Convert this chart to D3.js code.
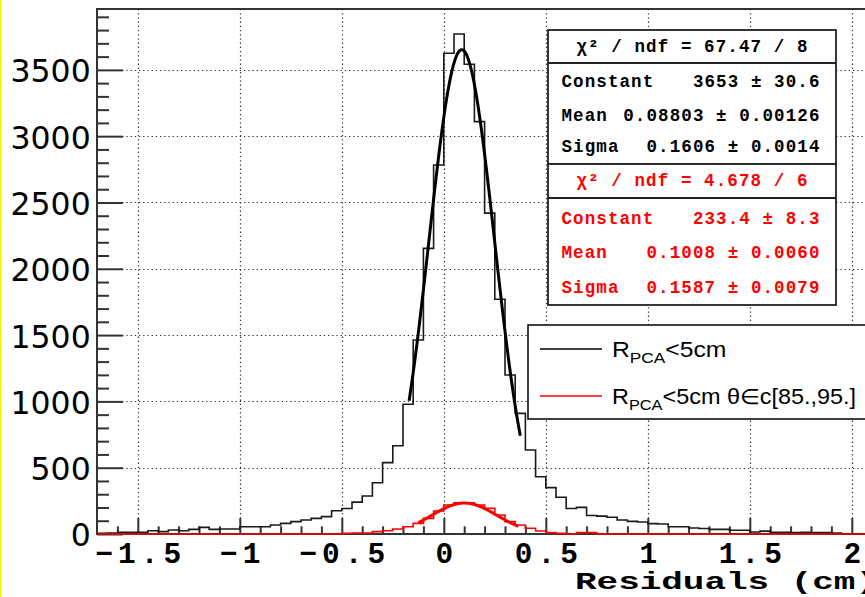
<!DOCTYPE html>
<html>
<head>
<meta charset="utf-8">
<script src="https://cdn.jsdelivr.net/npm/d3@7"></script>
<style>
  body { margin: 0; background: #fff; }
  svg { display: block; }
</style>
</head>
<body>
<svg id="chart" width="865" height="597"></svg>
<script>
// histogram binning: 76 bins of 0.05 starting at -1.7
const binStart = -1.7;
const binWidth = 0.05;

// R_PCA < 5cm (black)
const blackCounts = [
  5, 8, 13, 13, 13, 25, 18, 30, 25, 35,
  50, 35, 38, 38, 55, 55, 55, 68, 80, 93,
  106, 118, 131, 175, 192, 240, 287, 387, 538, 665,
  978, 1463, 2154, 2783, 3625, 3771, 3542, 3110, 2420, 1770,
  1199, 910, 633, 432, 350, 277, 192, 201, 140, 135,
  126, 106, 95, 90, 78, 75, 55, 55, 45, 42,
  35, 35, 28, 28, 15, 22, 12, 12, 10, 12,
  10, 10, 8, 0, 0, 0
];

// R_PCA < 5cm, theta in [85, 95] (red)
const redCounts = [
  0, 0, 0, 0, 0, 0, 0, 0, 0, 0,
  0, 0, 0, 0, 0, 0, 0, 0, 0, 0,
  0, 0, 0, 0, 5, 8, 8, 18, 25, 38,
  55, 80, 118, 173, 219, 236, 236, 219, 194, 143,
  93, 68, 43, 23, 10, 5, 0, 10, 10, 0,
  0, 0, 0, 0, 0, 0, 0, 0, 0, 0,
  0, 0, 0, 0, 0, 0, 0, 0, 0, 0,
  0, 0, 0, 0, 0, 0
];

// gaussian fit results: [constant, mean, sigma] and fit range
const blackFitPars = [3653, 0.08803, 0.1606];
const blackFitRange = [-0.17, 0.375];
const redFitPars = [233.4, 0.1008, 0.1587];
const redFitRange = [-0.125, 0.366];

const xTicks = [-1.5, -1, -0.5, 0, 0.5, 1, 1.5, 2];
const xTickLabels = ["\u22121.5", "\u22121", "\u22120.5", "0", "0.5", "1", "1.5", "2"];
const xMinorTicks = [-1.6, -1.4, -1.3, -1.2, -1.1, -0.9, -0.8, -0.7, -0.6, -0.4, -0.3, -0.2, -0.1,
  0.1, 0.2, 0.3, 0.4, 0.6, 0.7, 0.8, 0.9, 1.1, 1.2, 1.3, 1.4, 1.6, 1.7, 1.8, 1.9];
const yTicks = [0, 500, 1000, 1500, 2000, 2500, 3000, 3500];
const yMinorTicks = d3.range(100, 4000, 100).filter(v => v % 500 !== 0);

const blackStatsHeader = "\u03c7\u00b2 / ndf = 67.47 / 8";
const blackStatsNames = ["Constant", "Mean", "Sigma"];
const blackStatsValues = ["3653 \u00b1 30.6", "0.08803 \u00b1 0.00126", "0.1606 \u00b1 0.0014"];
const redStatsHeader = "\u03c7\u00b2 / ndf = 4.678 / 6";
const redStatsNames = ["Constant", "Mean", "Sigma"];
const redStatsValues = ["233.4 \u00b1 8.3", "0.1008 \u00b1 0.0060", "0.1587 \u00b1 0.0079"];

const legendLabels = ["<5cm", "<5cm \u03b8\u2208c[85.,95.]"];
const legendColors = ["#000", "#ff0000"];

const svg = d3.select("#chart");
const W = 865, H = 597;

const x = d3.scaleLinear().domain([-1.7, 2.1]).range([97, 872.2]);
const y = d3.scaleLinear().domain([0, 3959]).range([534, 9]);
const crisp = v => Math.round(v) + 0.5;

svg.append("rect").attr("width", W).attr("height", H).attr("fill", "#fff");

// grid
const grid = svg.append("g").attr("stroke", "#333").attr("stroke-width", 1.2)
  .attr("stroke-dasharray", "1.3,2.9");
grid.selectAll(".gx").data(xTicks).join("line")
  .attr("x1", d => crisp(x(d))).attr("x2", d => crisp(x(d)))
  .attr("y1", y.range()[1]).attr("y2", y.range()[0]);
grid.selectAll(".gy").data(yTicks.filter(d => d > 0)).join("line")
  .attr("x1", x.range()[0]).attr("x2", x.range()[1])
  .attr("y1", d => crisp(y(d))).attr("y2", d => crisp(y(d)));

// frame
svg.append("rect")
  .attr("x", x.range()[0]).attr("y", y.range()[1])
  .attr("width", x.range()[1] - x.range()[0])
  .attr("height", y.range()[0] - y.range()[1])
  .attr("fill", "none").attr("stroke", "#333").attr("stroke-width", 2);

// axes
function styleAxis(g) {
  g.select(".domain").remove();
  g.selectAll(".tick line").attr("stroke", "#333").attr("stroke-width", 2);
}
svg.append("g").attr("transform", `translate(${x.range()[0]},0)`)
  .call(d3.axisLeft(y).tickValues(yMinorTicks).tickSize(-12).tickFormat(""))
  .call(styleAxis);
svg.append("g").attr("transform", `translate(${x.range()[0]},0)`)
  .call(d3.axisLeft(y).tickValues(yTicks).tickSize(-26).tickPadding(6.3)
    .tickFormat(d3.format("d")))
  .call(styleAxis)
  .call(g => g.selectAll("text")
    .attr("font-family", "DejaVu Sans").attr("font-size", 31.5)
    .attr("fill", "#000").attr("dy", "0.38em"));

svg.append("g").attr("transform", `translate(0,${y(0)})`)
  .call(d3.axisBottom(x).tickValues(xMinorTicks).tickSize(-7.7).tickFormat(""))
  .call(styleAxis);
svg.append("g").attr("transform", `translate(0,${y(0)})`)
  .call(d3.axisBottom(x).tickValues(xTicks).tickSize(-16).tickPadding(8)
    .tickFormat((d, i) => xTickLabels[i]))
  .call(styleAxis)
  .call(g => g.selectAll("text")
    .attr("font-family", "Liberation Mono").attr("font-weight", "bold")
    .attr("font-size", 29.5).attr("letter-spacing", 5).attr("dx", 2.5)
    .attr("fill", "#000"));

// axis title
svg.append("text")
  .attr("x", 575).attr("y", 589)
  .attr("font-family", "Liberation Mono").attr("font-weight", "bold")
  .attr("font-size", 24.5)
  .attr("textLength", 302).attr("lengthAdjust", "spacingAndGlyphs")
  .text("Residuals (cm)");

// histograms
function stepPoints(counts) {
  const pts = counts.map((c, i) => [binStart + i * binWidth, c]);
  pts.push([binStart + counts.length * binWidth, counts[counts.length - 1]]);
  return pts;
}
const stepLine = d3.line().x(d => x(d[0])).y(d => y(d[1])).curve(d3.curveStepAfter);

const plot = svg.append("g");
plot.append("path").datum(stepPoints(blackCounts))
  .attr("d", stepLine).attr("fill", "none")
  .attr("stroke", "#1a1a1a").attr("stroke-width", 1.6);
plot.append("path").datum(stepPoints(redCounts))
  .attr("d", stepLine).attr("fill", "none")
  .attr("stroke", "#ff0000").attr("stroke-width", 1.6);

// fits
function gaussPoints(pars, range) {
  const n = 60;
  return d3.range(n + 1).map(i => {
    const xv = range[0] + (range[1] - range[0]) * i / n;
    const z = (xv - pars[1]) / pars[2];
    return [xv, pars[0] * Math.exp(-0.5 * z * z)];
  });
}
const fitLine = d3.line().x(d => x(d[0])).y(d => y(d[1]));
plot.append("path").datum(gaussPoints(blackFitPars, blackFitRange))
  .attr("d", fitLine).attr("fill", "none")
  .attr("stroke", "#000").attr("stroke-width", 3);
plot.append("path").datum(gaussPoints(redFitPars, redFitRange))
  .attr("d", fitLine).attr("fill", "none")
  .attr("stroke", "#ff0000").attr("stroke-width", 3);

// stats boxes
function statsBox(top, sep, bottom, header, names, values, baselines, color) {
  const g = svg.append("g");
  g.append("rect").attr("x", 548).attr("y", top)
    .attr("width", 288).attr("height", bottom - top)
    .attr("fill", "#fff").attr("stroke", "#222").attr("stroke-width", 1.8);
  g.append("line").attr("x1", 548).attr("x2", 836).attr("y1", sep).attr("y2", sep)
    .attr("stroke", "#222").attr("stroke-width", 1.8);
  const font = t => t.attr("font-family", "Liberation Mono").attr("font-weight", "bold")
    .attr("font-size", 17.5).attr("letter-spacing", 1.1).attr("fill", color);
  g.append("text").attr("x", 692.5).attr("y", baselines[0])
    .attr("text-anchor", "middle").call(font).text(header);
  g.selectAll(".nm").data(names).join("text")
    .attr("x", 561.5).attr("y", (d, i) => baselines[i + 1]).call(font).text(d => d);
  g.selectAll(".vl").data(values).join("text")
    .attr("x", 820.5).attr("y", (d, i) => baselines[i + 1])
    .attr("text-anchor", "end").call(font).text(d => d);
}
statsBox(30, 63, 164, blackStatsHeader, blackStatsNames, blackStatsValues,
  [52, 87, 120.5, 152], "#000");
statsBox(164, 198, 305, redStatsHeader, redStatsNames, redStatsValues,
  [186, 223.5, 258, 293], "#ff0000");

// legend
const leg = svg.append("g");
leg.append("rect").attr("x", 528).attr("y", 325).attr("width", 360).attr("height", 94)
  .attr("fill", "#fff").attr("stroke", "#111").attr("stroke-width", 1.6);
const legY = [349, 396];
const legScale = [1.15, 1.09];
leg.selectAll(".ll").data(legendColors).join("line")
  .attr("x1", 540).attr("x2", 602)
  .attr("y1", (d, i) => legY[i]).attr("y2", (d, i) => legY[i])
  .attr("stroke", d => d).attr("stroke-width", 1.5);
legendLabels.forEach((lab, i) => {
  const t = leg.append("g")
    .attr("transform", `translate(612,${legY[i] + 7.7}) scale(${legScale[i]},1)`)
    .append("text")
    .attr("font-family", "Liberation Sans").attr("font-size", 21.5).attr("fill", "#000");
  t.append("tspan").text("R");
  t.append("tspan").attr("font-size", 15).attr("dy", 6.5).text("PCA");
  t.append("tspan").attr("dy", -6.5).text(lab);
});

// yellow canvas border on the left
svg.append("rect").attr("x", 0).attr("y", 0).attr("width", 1.6).attr("height", H)
  .attr("fill", "#f5f500");
</script>
</body>
</html>
